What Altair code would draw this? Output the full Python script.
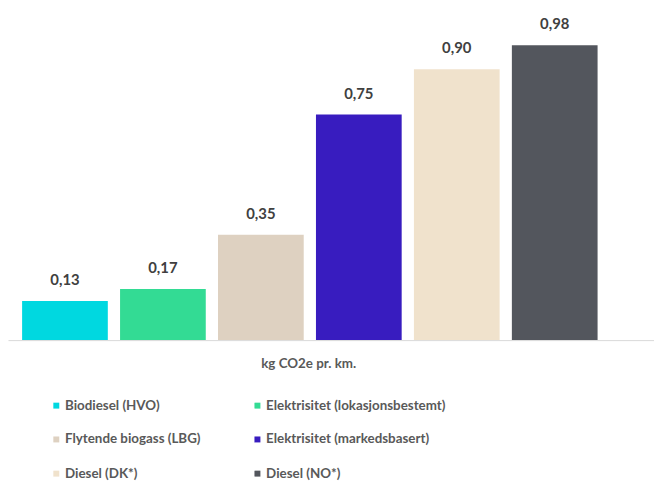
import altair as alt
import pandas as pd

categories = [
    "Biodiesel (HVO)",
    "Elektrisitet (lokasjonsbestemt)",
    "Flytende biogass (LBG)",
    "Elektrisitet (markedsbasert)",
    "Diesel (DK*)",
    "Diesel (NO*)",
]
values = [0.13, 0.17, 0.35, 0.75, 0.90, 0.98]
colors = ["#00D8E0", "#33DB94", "#DED1C1", "#381CBF", "#F0E2CC", "#53565D"]

df = pd.DataFrame({"kategori": categories, "verdi": values})

# legend fills column-wise; reorder so it reads row-wise like the original
legend_order = [0, 2, 4, 1, 3, 5]
leg_domain = [categories[i] for i in legend_order]
leg_range = [colors[i] for i in legend_order]

FONT = "Lato"

x = alt.X(
    "kategori:N",
    sort=categories,
    title="kg CO2e pr. km.",
    scale=alt.Scale(paddingInner=0.125, paddingOuter=0.36, align=0.2),
    axis=alt.Axis(
        labels=False, ticks=False, domainColor="#D9D9D9", domainWidth=1,
        titleFont=FONT, titleFontSize=13.5, titleFontWeight="bold", titleColor="#595959",
        titleX=303, titleY=28, titleAlign="center", titleBaseline="alphabetic",
    ),
)
y = alt.Y("verdi:Q", scale=alt.Scale(domain=[0, 1.08], nice=False), axis=None)

color = alt.Color(
    "kategori:N",
    scale=alt.Scale(domain=leg_domain, range=leg_range),
    legend=alt.Legend(
        title=None, orient="none", legendX=42, legendY=387, columns=2,
        symbolType="square", symbolSize=36, symbolStrokeWidth=0,
        labelFont=FONT, labelFontSize=13.5, labelFontWeight="bold", labelColor="#595959",
        labelOffset=2, labelLimit=400, rowPadding=19.5, columnPadding=50, padding=0,
    ),
)

bars = alt.Chart(df).mark_bar().encode(x=x, y=y, color=color)

labels = alt.Chart(df).transform_calculate(
    lab="replace(format(datum.verdi, '.2f'), '.', ',')"
).mark_text(
    dy=-16, baseline="alphabetic", font=FONT, fontSize=15, fontWeight="bold", color="#404040"
).encode(x=alt.X("kategori:N", sort=categories), y="verdi:Q", text="lab:N")

chart = (
    alt.layer(bars, labels)
    .properties(width=652, height=328, padding={"left": 0, "top": 5, "right": 0, "bottom": 0})
    .configure_view(stroke=None)
)

chart.save("out.html", embed_options={"renderer": "svg", "actions": False})
